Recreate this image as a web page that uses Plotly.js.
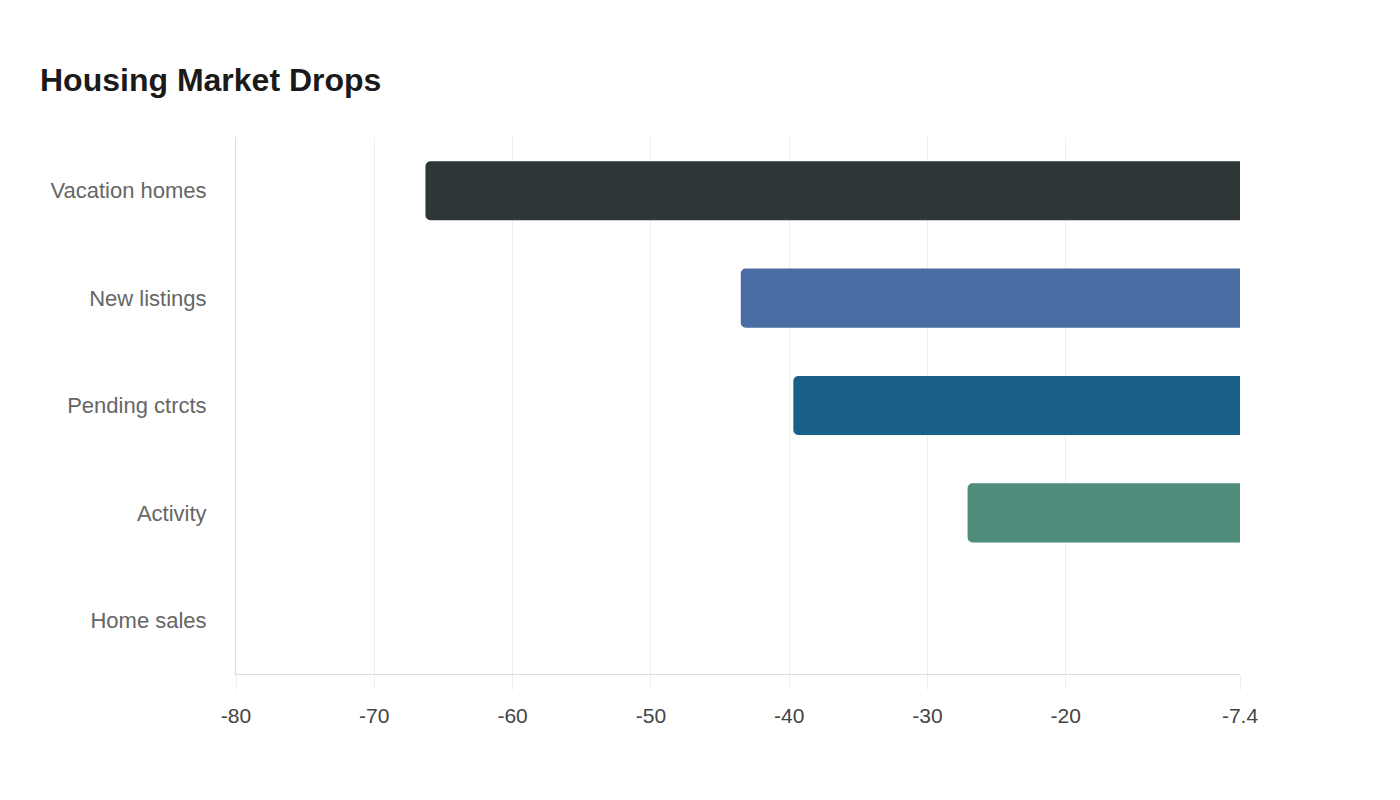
<!DOCTYPE html>
<html>
<head>
<meta charset="utf-8">
<script src="https://cdn.plot.ly/plotly-3.0.1.min.js"></script>
<style>html,body{margin:0;padding:0;background:#fff;}#chart{width:1400px;height:800px;}</style>
</head>
<body>
<div id="chart"></div>
<script>
const categories = ["Vacation homes", "New listings", "Pending ctrcts", "Activity", "Home sales"];
const values = [-66.3, -43.5, -39.7, -27.1, -7.4];
const barColors = ["#2e3638", "#4a6ea3", "#186087", "#4f8c7b", "#3d7a8c"];
const tickValues = [-80, -70, -60, -50, -40, -30, -20, -7.4];
const tickLabels = ["-80", "-70", "-60", "-50", "-40", "-30", "-20", "-7.4"];

const trace = {
  type: "bar",
  orientation: "h",
  y: categories,
  x: values,
  width: 0.55,
  marker: { color: barColors, cornerradius: 5, line: { width: 0 } },
  hoverinfo: "x+y"
};

const layout = {
  width: 1400,
  height: 800,
  paper_bgcolor: "#ffffff",
  plot_bgcolor: "#ffffff",
  font: { family: "Liberation Sans, Arial, sans-serif", color: "#666666" },
  title: {
    text: "<b>Housing Market Drops</b>",
    x: 40 / 1400, xref: "container", xanchor: "left",
    y: 1 - 80 / 800, yref: "container", yanchor: "middle",
    font: { size: 32, color: "#1a1a1a", family: "Liberation Sans, Arial, sans-serif" }
  },
  margin: { l: 236, r: 160, t: 137, b: 126 },
  showlegend: false,
  bargap: 0.45,
  xaxis: {
    range: [-80, -7.4],
    tickmode: "array",
    tickvals: tickValues,
    ticktext: tickLabels,
    showgrid: true,
    gridcolor: "#eeeeee",
    gridwidth: 1,
    zeroline: false,
    showline: true,
    linecolor: "#dddddd",
    linewidth: 1,
    ticks: "outside",
    ticklen: 15,
    tickcolor: "#eeeeee",
    ticklabelstandoff: 8,
    tickfont: { size: 21, color: "#444444" },
    fixedrange: true
  },
  yaxis: {
    autorange: "reversed",
    showline: true,
    linecolor: "#dddddd",
    linewidth: 1,
    showgrid: false,
    zeroline: false,
    ticks: "",
    ticklabelstandoff: 24,
    tickfont: { size: 22, color: "#666666" },
    fixedrange: true
  }
};

Plotly.newPlot("chart", [trace], layout, { displayModeBar: false, staticPlot: true });
</script>
</body>
</html>
